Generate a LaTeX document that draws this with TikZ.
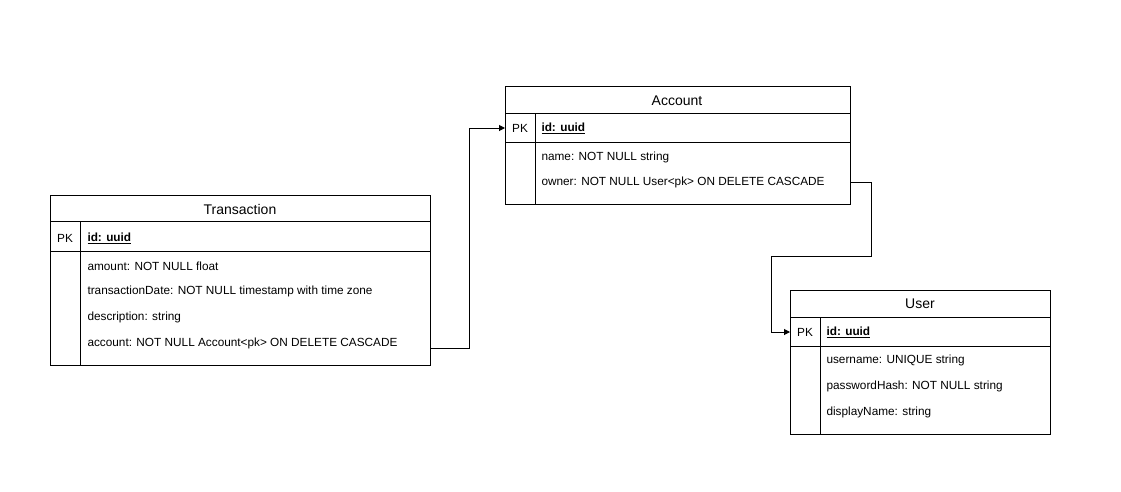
\documentclass[tikz,border=0pt]{standalone}
\usepackage{fontspec}
\setmainfont{Liberation Sans}
\usetikzlibrary{arrows.meta}
\begin{document}
\begin{tikzpicture}[x=1pt,y=-1pt,line width=1pt,
    tbl/.style={draw,inner sep=0pt,anchor=north west},
    title/.style={inner sep=0pt,yshift=-1pt,font=\fontsize{14}{16}\selectfont},
    field/.style={inner sep=0pt,anchor=west,yshift=-1pt,font=\fontsize{11.8}{14}\selectfont},
    pk/.style={inner sep=0pt,yshift=-1pt,font=\fontsize{11.8}{14}\selectfont},
    fk/.style={-{Triangle[length=6pt,width=6pt]}}]
  \useasboundingbox (0,0) rectangle (1121,491);
  % Transaction
  \node[tbl,minimum width=380pt,minimum height=170pt] (trans) at (50,195) {};
  \draw (50,221) -- (430,221);
  \draw (50,251) -- (430,251);
  \draw (80,221) -- (80,365);
  \node[title] (t-title) at (240,208) {Transaction};
  \node[pk] (t-pk) at (65,237) {PK};
  \node[field] (t-id) at (87,237) {\underline{\textbf{id: uuid}}};
  \node[field] (t-amount) at (87,265) {amount: NOT NULL float};
  \node[field] (t-date) at (87,290) {transactionDate: NOT NULL timestamp with time zone};
  \node[field] (t-desc) at (87,316) {description: string};
  \node[field] (t-account) at (87,342) {account: NOT NULL Account<pk> ON DELETE CASCADE};
  % Account
  \node[tbl,minimum width=345pt,minimum height=118pt] (acct) at (505,86) {};
  \draw (505,113) -- (850,113);
  \draw (505,142) -- (850,142);
  \draw (535,113) -- (535,204);
  \node[title] (a-title) at (677,100) {Account};
  \node[pk] (a-pk) at (520,127) {PK};
  \node[field] (a-id) at (541,127) {\underline{\textbf{id: uuid}}};
  \node[field] (a-name) at (541,156) {name: NOT NULL string};
  \node[field] (a-owner) at (541,181) {owner: NOT NULL User<pk> ON DELETE CASCADE};
  % User
  \node[tbl,minimum width=260pt,minimum height=144pt] (user) at (790,290) {};
  \draw (790,317) -- (1050,317);
  \draw (790,346) -- (1050,346);
  \draw (820,317) -- (820,434);
  \node[title] (u-title) at (920,303) {User};
  \node[pk] (u-pk) at (805,331) {PK};
  \node[field] (u-id) at (826,331) {\underline{\textbf{id: uuid}}};
  \node[field] (u-username) at (826,359) {username: UNIQUE string};
  \node[field] (u-hash) at (826,385) {passwordHash: NOT NULL string};
  \node[field] (u-display) at (826,411) {displayName: string};
  % foreign keys
  \draw[fk] (trans.south east) ++(0,-18) -- ++(38,0) |- (acct.west |- a-id);
  \draw[fk] (acct.east |- a-owner) -- ++(20,0) -- ++(0,74) -- ++(-100,0) |- (user.west |- u-id);
\end{tikzpicture}
\end{document}
